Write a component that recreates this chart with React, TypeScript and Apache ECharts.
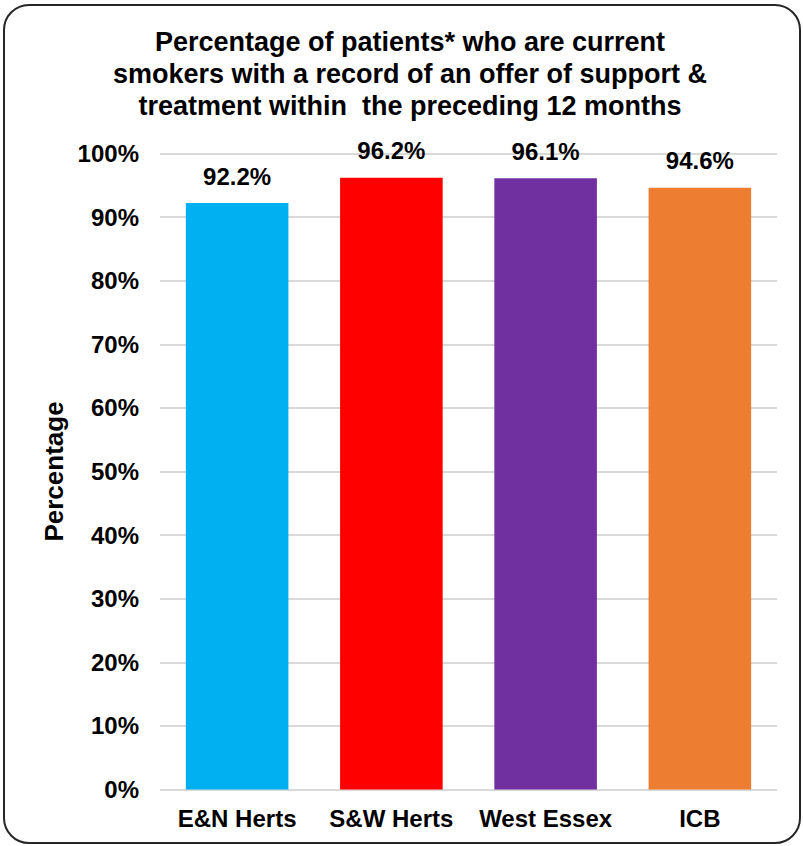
import React, { useEffect, useRef } from "react";
import * as echarts from "echarts";

// Areas and their share of current smokers offered support & treatment
const categories = ["E&N Herts", "S&W Herts", "West Essex", "ICB"];
const values = [92.2, 96.2, 96.1, 94.6];
const barColors = ["#00B0F0", "#FF0000", "#7030A0", "#ED7D31"];
const yTicks = { min: 0, max: 100, interval: 10 };

const titleText =
  "Percentage of patients* who are current\nsmokers with a record of an offer of support &\ntreatment within  the preceding 12 months";

const FONT = '"Liberation Sans", Arial, sans-serif';

export default function App() {
  const ref = useRef<HTMLDivElement>(null);

  useEffect(() => {
    document.body.style.margin = "0";
    if (!ref.current) return;
    const chart = echarts.init(ref.current, null, { renderer: "svg" });
    chart.setOption({
      animation: false,
      backgroundColor: "#ffffff",
      textStyle: { fontFamily: FONT },
      title: {
        text: titleText,
        left: 405,
        top: 21,
        textAlign: "center",
        textStyle: {
          fontFamily: FONT,
          fontSize: 27,
          fontWeight: "bold",
          color: "#000000",
          lineHeight: 32,
        },
      },
      graphic: [
        {
          type: "rect",
          shape: { x: 4, y: 5, width: 796, height: 838, r: 25 },
          style: { fill: "none", stroke: "#262626", lineWidth: 2 },
          silent: true,
        },
      ],
      grid: { left: 160, right: 26, top: 153.5, bottom: 56.5 },
      xAxis: {
        type: "category",
        data: categories,
        axisLine: { show: false },
        axisTick: { show: false },
        axisLabel: {
          interval: 0,
          fontFamily: FONT,
          fontSize: 24,
          fontWeight: "bold",
          color: "#000000",
          margin: 17,
        },
      },
      yAxis: {
        type: "value",
        min: yTicks.min,
        max: yTicks.max,
        interval: yTicks.interval,
        name: "Percentage",
        nameLocation: "middle",
        nameGap: 93,
        nameTextStyle: {
          fontFamily: FONT,
          fontSize: 26,
          fontWeight: "bold",
          color: "#000000",
        },
        axisLabel: {
          formatter: "{value}%",
          fontFamily: FONT,
          fontSize: 24,
          fontWeight: "bold",
          color: "#000000",
          margin: 21,
        },
        splitLine: { lineStyle: { color: "#d9d9d9", width: 2 } },
        axisLine: { show: false },
        axisTick: { show: false },
      },
      series: [
        {
          type: "bar",
          barWidth: "66.5%",
          data: values.map((v, i) => ({
            value: v,
            itemStyle: { color: barColors[i] },
          })),
          label: {
            show: true,
            position: "top",
            distance: 15,
            formatter: (p: any) => `${p.value.toFixed(1)}%`,
            fontFamily: FONT,
            fontSize: 24,
            fontWeight: "bold",
            color: "#000000",
          },
        },
      ],
    });
    return () => chart.dispose();
  }, []);

  return <div ref={ref} style={{ width: 803, height: 846 }} />;
}
